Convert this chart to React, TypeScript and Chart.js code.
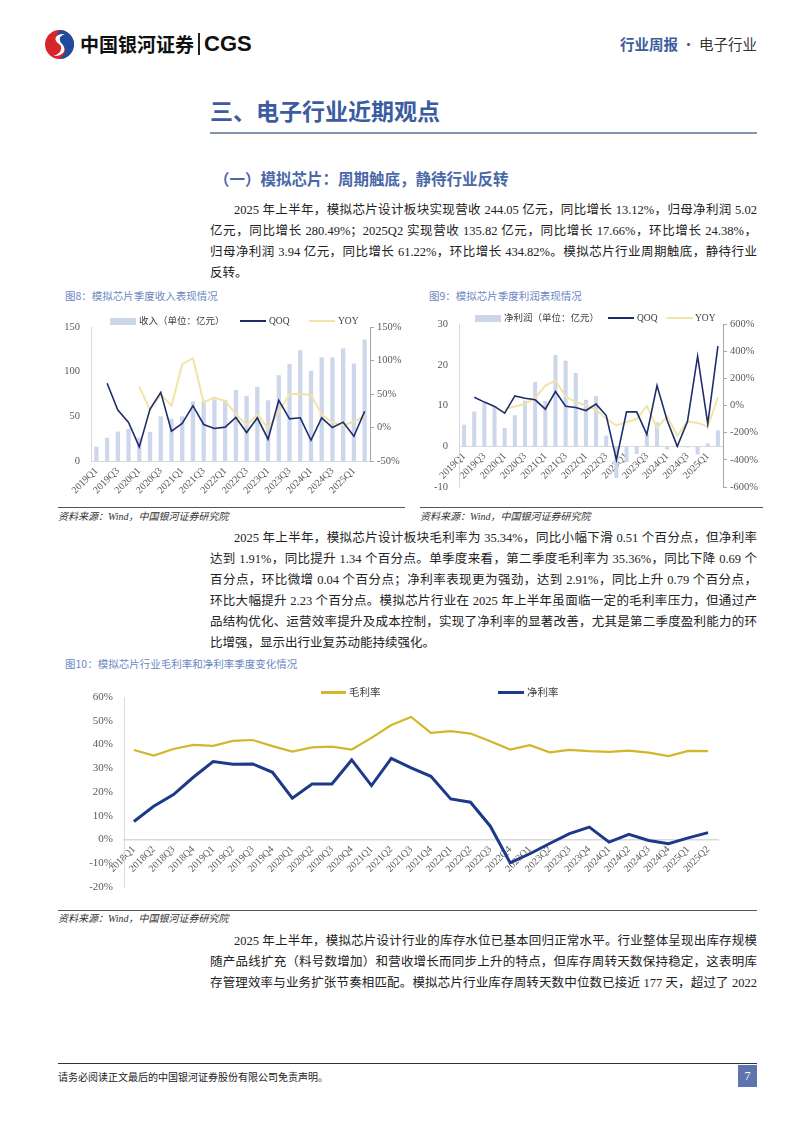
import React, { useEffect, useRef } from 'react';
import { Chart, registerables } from 'chart.js';

Chart.register(...registerables);

// ---------------- DATA ----------------
const quarters = [
  '2019Q1', '2019Q2', '2019Q3', '2019Q4', '2020Q1', '2020Q2', '2020Q3', '2020Q4',
  '2021Q1', '2021Q2', '2021Q3', '2021Q4', '2022Q1', '2022Q2', '2022Q3', '2022Q4',
  '2023Q1', '2023Q2', '2023Q3', '2023Q4', '2024Q1', '2024Q2', '2024Q3', '2024Q4',
  '2025Q1', '2025Q2',
];
// 收入（单位：亿元）
const revenue = [16, 26, 33, 36, 26, 32.5, 50, 47.5, 50, 66.8, 67.5, 69, 68.5, 79.5, 73, 83,
  68, 96, 108.5, 124, 101, 116, 116, 126, 109, 136];
const revenueQoq = [null, 66, 26, 7.5, -29, 27.5, 52.5, -5.5, 6, 32.5, 4.5, -1.5, 0.5, 15, -7.5, 14.5,
  -17.5, 40.5, 13, 14.5, -19, 14.5, 0, 8, -13, 24];
const revenueYoy = [null, null, null, null, 61, 26, 49.5, 32.5, 94.5, 103.5, 37.5, 44.5, 39.5, 20, 3.5, 19.5,
  -1.5, 23.5, 49.5, 50.5, 48.5, 19.5, 7.5, 3.5, 8.5, 17.5];
// 净利润（单位：亿元）
const profit = [5.3, 8.5, 10.7, 9.8, 4.5, 7.6, 11.2, 15.8, 11.1, 22.4, 21.0, 18.0, 11.4, 12.3, 2.6, -7.8,
  -3.9, -1.9, 3.0, 5.9, -0.8, 0.3, -0.3, -2.0, 0.7, 3.9];
const profitQoq = [null, 61, 25, -7, -56, 71, 54, 42, -27, 103, -5, -15, -37, 10, -74, -400,
  -47, -47, -213, 147, -110, -300, -118, 363, -135, 437];
const profitYoy = [null, null, null, null, -25, -7, 12, 56, 147, 184, 66, 25, 2, -32, -98, -147,
  -123, -98, -5, -164, -81, -221, -118, -128, -155, 61];

const marginQuarters = [
  '2018Q1', '2018Q2', '2018Q3', '2018Q4', '2019Q1', '2019Q2', '2019Q3', '2019Q4',
  '2020Q1', '2020Q2', '2020Q3', '2020Q4', '2021Q1', '2021Q2', '2021Q3', '2021Q4',
  '2022Q1', '2022Q2', '2022Q3', '2022Q4', '2023Q1', '2023Q2', '2023Q3', '2023Q4',
  '2024Q1', '2024Q2', '2024Q3', '2024Q4', '2025Q1', '2025Q2',
];
const grossMargin = [37.7, 35.3, 38.1, 39.8, 39.4, 41.5, 41.9, 39.3, 37.0, 38.8, 39.1, 37.9, 42.8, 48.2, 51.6,
  44.9, 45.6, 44.6, 41.4, 37.9, 39.7, 36.7, 37.7, 37.2, 36.9, 37.4, 36.6, 35.1, 37.3, 37.2];
const netMargin = [7.6, 14.0, 18.9, 26.2, 32.8, 31.7, 31.8, 28.3, 17.4, 23.4, 23.4, 33.5, 22.7, 34.2, 30.2,
  26.6, 17.1, 15.7, 5.6, -9.8, -6.0, -1.7, 2.5, 5.2, -1.1, 2.2, -0.4, -1.8, 0.7, 2.9];

const revenueAxis = { min: 0, max: 150, step: 50 };
const revenuePctAxis = { min: -50, max: 150, step: 50 };
const profitAxis = { min: -10, max: 30, step: 10 };
const profitPctAxis = { min: -600, max: 600, step: 200 };
const marginAxis = { min: -20, max: 60, step: 10 };

// ---------------- STYLE ----------------
const SERIF = "'Liberation Serif', 'Noto Sans CJK SC', serif";
const SANS = "'Noto Sans CJK SC', 'Liberation Sans', sans-serif";
const BAR = '#CCD7EB';
const NAVY = '#1F2D6B';
const PALE_YELLOW = '#F2E4A6';
const GOLD = '#D2B62C';
const NAVY2 = '#1D3A8A';
const TICK = '#595959';
const AXIS = '#D9D9D9';

Chart.defaults.font.family = SERIF;

function ChartBox({ left, top, width, height, makeConfig }: any) {
  const ref = useRef<HTMLCanvasElement | null>(null);
  useEffect(() => {
    if (!ref.current) return;
    const chart = new Chart(ref.current, makeConfig());
    return () => chart.destroy();
  }, []);
  return (
    <div style={{ position: 'absolute', left, top, width, height }}>
      <canvas ref={ref} width={width} height={height} style={{ width, height, display: 'block' }} />
    </div>
  );
}

function everyOther(this: any, v: any, i: number) {
  return i % 2 === 0 ? this.getLabelForValue(v) : '';
}

const pctCb = (v: any) => v + '%';

function revenueConfig(): any {
  return {
    type: 'bar',
    data: {
      labels: quarters,
      datasets: [
        { type: 'line', label: 'QOQ', data: revenueQoq, yAxisID: 'y1', borderColor: NAVY, borderWidth: 1.6, pointRadius: 0, order: 1 },
        { type: 'line', label: 'YOY', data: revenueYoy, yAxisID: 'y1', borderColor: PALE_YELLOW, borderWidth: 2, pointRadius: 0, order: 2 },
        { type: 'bar', label: '收入（单位：亿元）', data: revenue, yAxisID: 'y', backgroundColor: BAR, barPercentage: 0.4, categoryPercentage: 1, order: 3 },
      ],
    },
    options: {
      responsive: false,
      animation: false,
      layout: { padding: { top: 22, right: 0, bottom: 0, left: 0 } },
      plugins: { legend: { display: false }, tooltip: { enabled: false } },
      scales: {
        x: {
          grid: { display: false, drawTicks: false },
          border: { display: true, color: AXIS },
          ticks: { autoSkip: false, maxRotation: 45, minRotation: 45, padding: 4, color: TICK, font: { size: 10 }, callback: everyOther },
          afterFit: (s: any) => { s.height = 44; },
        },
        y: {
          position: 'left', min: revenueAxis.min, max: revenueAxis.max,
          grid: { display: false },
          border: { display: true, color: AXIS },
          ticks: { stepSize: revenueAxis.step, color: TICK, font: { size: 10.5 } },
          afterFit: (s: any) => { s.width = 33; },
        },
        y1: {
          position: 'right', min: revenuePctAxis.min, max: revenuePctAxis.max,
          grid: { display: true, drawOnChartArea: false, drawTicks: true, tickLength: 4, color: '#A6A6A6' },
          border: { display: true, color: '#A6A6A6' },
          ticks: { stepSize: revenuePctAxis.step, color: TICK, font: { size: 10.5 }, callback: pctCb },
          afterFit: (s: any) => { s.width = 35; },
        },
      },
    },
  };
}

function profitConfig(): any {
  return {
    type: 'bar',
    data: {
      labels: quarters,
      datasets: [
        { type: 'line', label: 'QOQ', data: profitQoq, yAxisID: 'y1', borderColor: NAVY, borderWidth: 1.6, pointRadius: 0, order: 1 },
        { type: 'line', label: 'YOY', data: profitYoy, yAxisID: 'y1', borderColor: PALE_YELLOW, borderWidth: 2, pointRadius: 0, order: 2 },
        { type: 'bar', label: '净利润（单位：亿元）', data: profit, yAxisID: 'y', backgroundColor: BAR, barPercentage: 0.4, categoryPercentage: 1, order: 3 },
      ],
    },
    options: {
      responsive: false,
      animation: false,
      layout: { padding: { top: 19, right: 0, bottom: 18, left: 0 } },
      plugins: { legend: { display: false }, tooltip: { enabled: false } },
      scales: {
        x: {
          position: { y: 0 },
          grid: { display: false, drawTicks: false },
          border: { display: true, color: AXIS },
          ticks: { autoSkip: false, maxRotation: 45, minRotation: 45, padding: 4, color: TICK, font: { size: 10 }, callback: everyOther },
        },
        y: {
          position: 'left', min: profitAxis.min, max: profitAxis.max,
          grid: { display: false },
          border: { display: true, color: AXIS },
          ticks: { stepSize: profitAxis.step, color: TICK, font: { size: 10.5 } },
          afterFit: (s: any) => { s.width = 39; },
        },
        y1: {
          position: 'right', min: profitPctAxis.min, max: profitPctAxis.max,
          grid: { display: true, drawOnChartArea: false, drawTicks: true, tickLength: 4, color: '#A6A6A6' },
          border: { display: true, color: '#A6A6A6' },
          ticks: { stepSize: profitPctAxis.step, color: TICK, font: { size: 10.5 }, callback: pctCb },
          afterFit: (s: any) => { s.width = 40; },
        },
      },
    },
  };
}

function marginConfig(): any {
  return {
    type: 'line',
    data: {
      labels: marginQuarters,
      datasets: [
        { label: '毛利率', data: grossMargin, borderColor: GOLD, borderWidth: 2.2, pointRadius: 0 },
        { label: '净利率', data: netMargin, borderColor: NAVY2, borderWidth: 3, pointRadius: 0 },
      ],
    },
    options: {
      responsive: false,
      animation: false,
      layout: { padding: { top: 22, right: 39, bottom: 20, left: 0 } },
      plugins: { legend: { display: false }, tooltip: { enabled: false } },
      scales: {
        x: {
          position: { y: 0 },
          offset: true,
          grid: { display: false, drawTicks: false },
          border: { display: true, color: AXIS, width: 1.5 },
          ticks: { autoSkip: false, maxRotation: 45, minRotation: 45, padding: 4, color: TICK, font: { size: 10 } },
        },
        y: {
          position: 'left', min: marginAxis.min, max: marginAxis.max,
          grid: { display: false },
          border: { display: true, color: AXIS },
          ticks: { stepSize: marginAxis.step, color: TICK, font: { size: 11 }, callback: pctCb },
          afterFit: (s: any) => { s.width = 66; },
        },
      },
    },
  };
}

// ---------------- TEXT ----------------
const para1 = [
  '2025 年上半年，模拟芯片设计板块实现营收 244.05 亿元，同比增长 13.12%，归母净利润 5.02',
  '亿元，同比增长 280.49%；2025Q2 实现营收 135.82 亿元，同比增长 17.66%，环比增长 24.38%，',
  '归母净利润 3.94 亿元，同比增长 61.22%，环比增长 434.82%。模拟芯片行业周期触底，静待行业',
  '反转。',
];
const para2 = [
  '2025 年上半年，模拟芯片设计板块毛利率为 35.34%，同比小幅下滑 0.51 个百分点，但净利率',
  '达到 1.91%，同比提升 1.34 个百分点。单季度来看，第二季度毛利率为 35.36%，同比下降 0.69 个',
  '百分点，环比微增 0.04 个百分点；净利率表现更为强劲，达到 2.91%，同比上升 0.79 个百分点，',
  '环比大幅提升 2.23 个百分点。模拟芯片行业在 2025 年上半年虽面临一定的毛利率压力，但通过产',
  '品结构优化、运营效率提升及成本控制，实现了净利率的显著改善，尤其是第二季度盈利能力的环',
  '比增强，显示出行业复苏动能持续强化。',
];
const para3 = [
  '2025 年上半年，模拟芯片设计行业的库存水位已基本回归正常水平。行业整体呈现出库存规模',
  '随产品线扩充（料号数增加）和营收增长而同步上升的特点，但库存周转天数保持稳定，这表明库',
  '存管理效率与业务扩张节奏相匹配。模拟芯片行业库存周转天数中位数已接近 177 天，超过了 2022',
];

function Para({ top, lines, justifyLast }: { top: number; lines: string[]; justifyLast?: boolean }) {
  return (
    <div style={{ position: 'absolute', left: 210, top, width: 547, fontFamily: SERIF, fontSize: 12.5, lineHeight: '21.1px', color: '#222' }}>
      {lines.map((l, i) => (
        <div key={i} style={{
          whiteSpace: 'nowrap',
          textAlign: 'justify',
          textAlignLast: (i < lines.length - 1 || justifyLast) ? 'justify' : 'left',
          textIndent: i === 0 ? 24 : 0,
        } as any}>{l}</div>
      ))}
    </div>
  );
}

function Abs({ left, top, style, children }: any) {
  return <div style={{ position: 'absolute', left, top, whiteSpace: 'nowrap', ...style }}>{children}</div>;
}

function LegendRect({ x, y, w, h, color }: any) {
  return <div style={{ position: 'absolute', left: x, top: y - h / 2, width: w, height: h, background: color }} />;
}

export default function App() {
  useEffect(() => { document.body.style.margin = '0'; }, []);
  const caption = { fontFamily: SANS, fontSize: 10.5, color: '#6A88C2', lineHeight: '14px' };
  const source = { fontFamily: SERIF, fontStyle: 'italic', fontSize: 10, color: '#333', lineHeight: '12px' };
  const legendSerif = { fontFamily: SERIF, fontSize: 9.5, color: '#404040', lineHeight: '12px' };
  const legendSans = { fontFamily: SANS, fontSize: 10.5, color: '#404040', lineHeight: '14px' };
  return (
    <div style={{ position: 'absolute', left: 0, top: 0, width: 794, height: 1123, background: '#fff', overflow: 'hidden' }}>
      {/* header */}
      <svg style={{ position: 'absolute', left: 44, top: 29 }} width={31} height={31} viewBox="0 0 30 30">
        <circle cx={15} cy={15} r={14} fill="#D6262C" />
        <path d="M15 1 A14 14 0 0 1 29 15 A14 14 0 0 1 15 29 C 22 24, 22 17, 16 15 C 11 13, 12 6, 15 1 Z" fill="#1E4C9C" />
        <path d="M20 5 C 12 4, 8 10, 14 14 C 19 17, 17 24, 9 26 C 17 27, 23 21, 18 15 C 14 11, 14 7, 20 5 Z" fill="#fff" />
      </svg>
      <Abs left={80} top={30} style={{ fontFamily: SANS, fontWeight: 700, fontSize: 19, lineHeight: '28px', color: '#111' }}>中国银河证券</Abs>
      <div style={{ position: 'absolute', left: 198, top: 33, width: 2, height: 22, background: '#222' }} />
      <Abs left={204} top={29} style={{ fontFamily: "'Liberation Sans', sans-serif", fontWeight: 700, fontSize: 22, lineHeight: '30px', color: '#111' }}>CGS</Abs>
      <div style={{ position: 'absolute', right: 37, top: 34, whiteSpace: 'nowrap', fontFamily: SANS, fontSize: 14.5, lineHeight: '20px' }}>
        <span style={{ color: '#3D5C9E', fontWeight: 700 }}>行业周报</span>
        <span style={{ color: '#555' }}> · </span>
        <span style={{ color: '#333' }}>电子行业</span>
      </div>

      {/* headings */}
      <Abs left={210} top={95} style={{ fontFamily: SANS, fontWeight: 700, fontSize: 23, lineHeight: '30px', color: '#3C5CA2' }}>三、电子行业近期观点</Abs>
      <div style={{ position: 'absolute', left: 210, top: 132, width: 547, height: 2, background: '#8594AD' }} />
      <Abs left={214} top={168} style={{ fontFamily: SANS, fontWeight: 700, fontSize: 15.5, lineHeight: '20px', color: '#4A68A8' }}>（一）模拟芯片：周期触底，静待行业反转</Abs>

      <Para top={199.5} lines={para1} />

      {/* figure 8 & 9 */}
      <Abs left={65} top={289} style={caption}>图8：模拟芯片季度收入表现情况</Abs>
      <Abs left={429} top={289} style={caption}>图9：模拟芯片季度利润表现情况</Abs>

      <ChartBox left={58} top={305} width={347} height={200} makeConfig={revenueConfig} />
      <ChartBox left={420} top={305} width={343} height={200} makeConfig={profitConfig} />

      {/* legends chart 1 */}
      <LegendRect x={110} y={321} w={26} h={7} color={BAR} />
      <Abs left={139} top={315} style={legendSerif}>收入（单位：亿元）</Abs>
      <LegendRect x={240} y={321} w={26} h={2} color={NAVY} />
      <Abs left={269} top={315} style={legendSerif}>QOQ</Abs>
      <LegendRect x={309} y={321} w={26} h={2} color={PALE_YELLOW} />
      <Abs left={338} top={315} style={legendSerif}>YOY</Abs>

      {/* legends chart 2 */}
      <LegendRect x={475} y={318} w={26} h={7} color={BAR} />
      <Abs left={504} top={312} style={legendSerif}>净利润（单位：亿元）</Abs>
      <LegendRect x={608} y={318} w={26} h={2} color={NAVY} />
      <Abs left={637} top={312} style={legendSerif}>QOQ</Abs>
      <LegendRect x={667} y={318} w={26} h={2} color={PALE_YELLOW} />
      <Abs left={695} top={312} style={legendSerif}>YOY</Abs>

      <div style={{ position: 'absolute', left: 58, top: 507, width: 347, height: 1, background: '#555' }} />
      <div style={{ position: 'absolute', left: 420, top: 507, width: 343, height: 1, background: '#555' }} />
      <Abs left={58} top={511} style={source}>资料来源：Wind，中国银河证券研究院</Abs>
      <Abs left={420} top={511} style={source}>资料来源：Wind，中国银河证券研究院</Abs>

      <Para top={527.5} lines={para2} />

      {/* figure 10 */}
      <Abs left={65} top={657} style={caption}>图10：模拟芯片行业毛利率和净利率季度变化情况</Abs>
      <ChartBox left={58} top={675} width={699} height={232} makeConfig={marginConfig} />
      <LegendRect x={321} y={692} w={25} h={3} color={GOLD} />
      <Abs left={349} top={685} style={legendSans}>毛利率</Abs>
      <LegendRect x={498} y={692} w={26} h={3} color={NAVY2} />
      <Abs left={527} top={685} style={legendSans}>净利率</Abs>

      <div style={{ position: 'absolute', left: 58, top: 910, width: 699, height: 1, background: '#555' }} />
      <Abs left={58} top={913} style={source}>资料来源：Wind，中国银河证券研究院</Abs>

      <Para top={930.5} lines={para3} justifyLast />

      {/* footer */}
      <div style={{ position: 'absolute', left: 58, top: 1063, width: 699, height: 1, background: '#333' }} />
      <Abs left={58} top={1070} style={{ fontFamily: SANS, fontSize: 10, lineHeight: '13px', color: '#222' }}>请务必阅读正文最后的中国银河证券股份有限公司免责声明。</Abs>
      <div style={{ position: 'absolute', left: 738, top: 1065, width: 19, height: 22, background: '#5D74AF', color: '#fff', fontFamily: SERIF, fontSize: 12, lineHeight: '22px', textAlign: 'center' }}>7</div>
    </div>
  );
}
